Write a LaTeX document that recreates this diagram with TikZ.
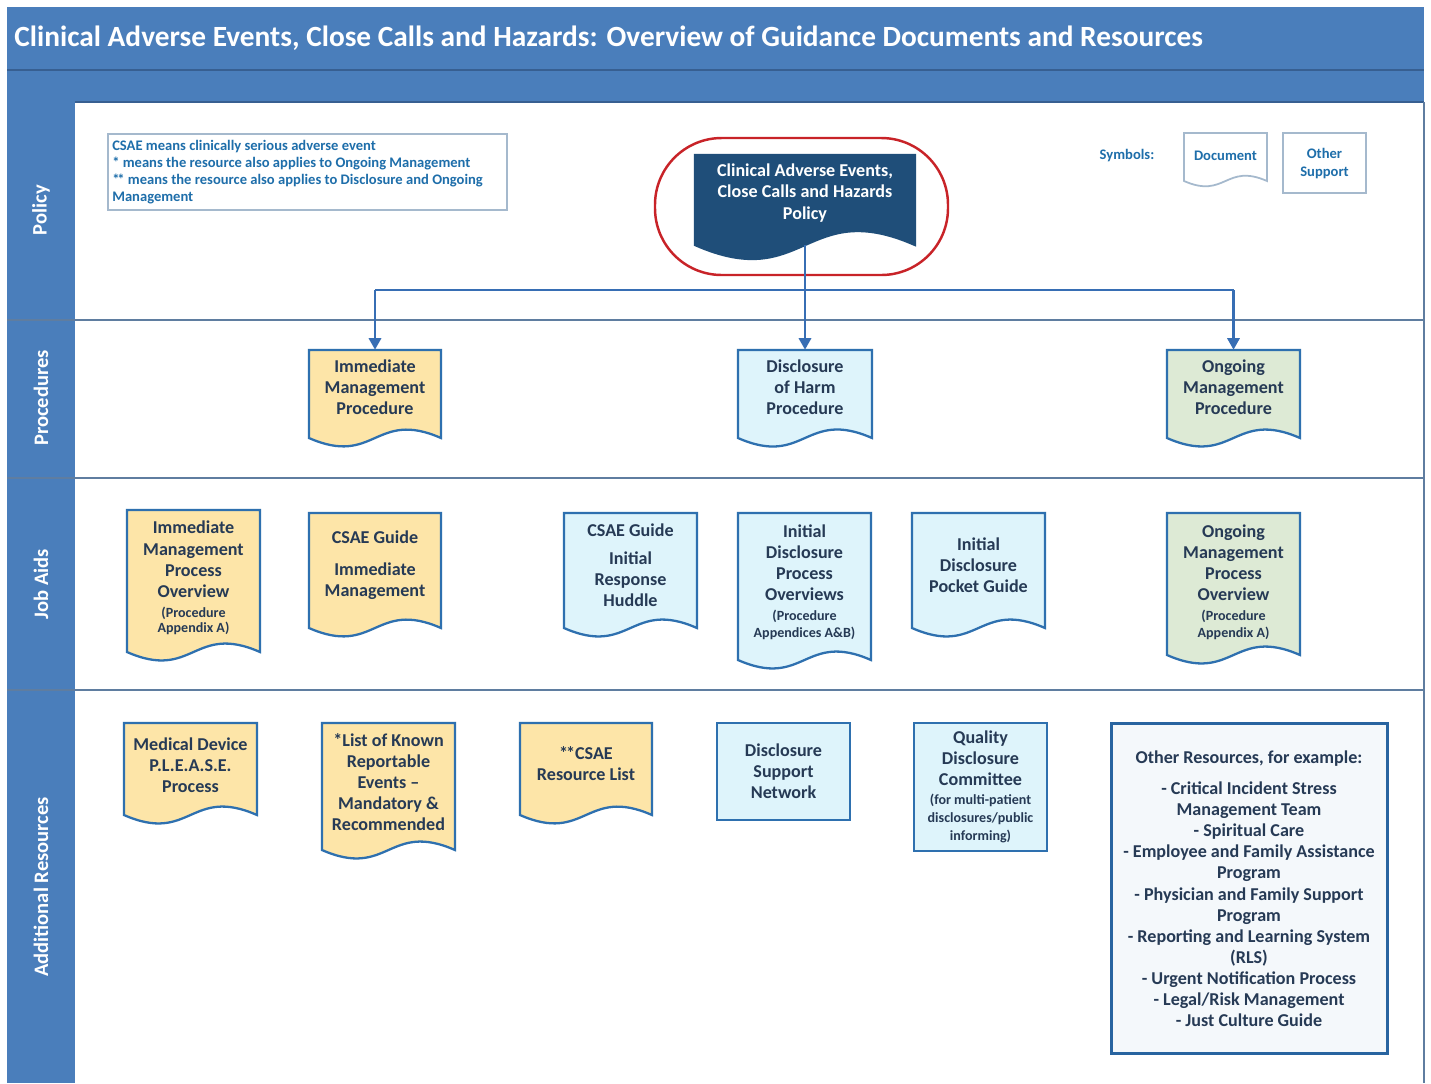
\documentclass[tikz,border=0pt]{standalone}
\usepackage{fontspec}
\setmainfont{Carlito}
\usetikzlibrary{arrows.meta,fit}
\definecolor{band}{RGB}{74,126,187}
\definecolor{bandline}{RGB}{55,95,145}
\definecolor{sepc}{RGB}{95,125,160}
\definecolor{docb}{RGB}{46,112,175}
\definecolor{txtc}{RGB}{38,58,85}
\definecolor{yel}{RGB}{253,229,168}
\definecolor{cya}{RGB}{222,244,251}
\definecolor{grn}{RGB}{221,234,213}
\definecolor{polfill}{RGB}{31,78,121}
\definecolor{ringc}{RGB}{200,35,40}
\definecolor{legc}{RGB}{30,110,170}
\definecolor{legb}{RGB}{165,185,205}
\definecolor{arrc}{RGB}{55,110,180}
\definecolor{othf}{RGB}{244,248,251}
\definecolor{othb}{RGB}{40,100,160}
\newcommand{\smallfnt}{\fontsize{8}{9.4}\selectfont}
\newcommand{\twostar}{*\kern-1.2pt*}
\newcommand{\docbox}[8]{%
  \pgfmathsetmacro{\docW}{#4-#2}%
  \pgfmathsetmacro{\docD}{0.22*\docW}%
  \pgfmathsetmacro{\docM}{(#2+#4)/2}%
  \pgfmathsetlengthmacro{\docTW}{(#4-#2-8)*0.5690551pt}%
  \filldraw[docline,#6] (#2,#3) -- (#4,#3) -- (#4,#5) .. controls (\docM,#5-\docD) and (\docM,#5+\docD) .. (#2,#5) -- cycle;
  \node[fit={(#2,#3) (#4,#5)}, inner sep=0pt] (#1) {};
  \node[doctext, text width=\docTW] (#1-t) at (\docM,#7) {#8};
}
\newcommand{\rbox}[8]{%
  \pgfmathsetmacro{\docM}{(#2+#4)/2}%
  \pgfmathsetlengthmacro{\docTW}{(#4-#2-8)*0.5690551pt}%
  \node[rectbox,#6, fit={(#2,#3) (#4,#5)}] (#1) {};
  \node[doctext, text width=\docTW] (#1-t) at (\docM,#7) {#8};
}
\begin{document}
\begin{tikzpicture}[x=0.02cm,y=-0.02cm,
  every node/.style={font=\bfseries},
  doctext/.style={font=\bfseries\fontsize{10.3}{12}\selectfont, text=txtc, align=flush center, inner sep=0pt},
  docline/.style={draw=docb, line width=1.3pt},
  rectbox/.style={draw=docb, line width=1.3pt, inner sep=0pt},
  lane/.style={rotate=90, text=white, inner sep=0pt, font=\bfseries\fontsize{11.7}{14}\selectfont},
  sepline/.style={draw=sepc, line width=0.8pt},
  conn/.style={draw=arrc, line width=1.2pt},
  arr/.style={conn, -{Triangle[length=6.5pt,width=7pt]}},
]
\path[use as bounding box, fill=white] (0,0) rectangle (1431,1083);
% bands and lanes
\fill[band] (7,7) rectangle (1424,102);
\fill[band] (7,102) rectangle (75,1083);
\draw[bandline, line width=0.6pt] (7,70) -- (1424,70);
\draw[bandline, line width=0.6pt] (75,102) -- (1424,102);
\foreach \yy in {320,478,690} \draw[sepline] (7,\yy) -- (1424,\yy);
\draw[sepline] (1424,102) -- (1424,1083);
\node[anchor=west, text=white, inner sep=0pt, font=\bfseries\fontsize{16.7}{20}\selectfont] (title) at (14,38) {Clinical Adverse Events, Close Calls and Hazards: Overview of Guidance Documents and Resources};
\node[lane] (lPolicy) at (41,210) {Policy};
\node[lane] (lProc) at (41,398) {Procedures};
\node[lane] (lJob) at (41,584) {Job Aids};
\node[lane] (lAdd) at (41,887) {Additional Resources};
% legend
\node[draw=legb, line width=1pt, fill=white, anchor=north west, text width=222pt, minimum height=43.3pt, align=flush left, inner xsep=2.5pt, inner ysep=0pt, text=legc, font=\bfseries\fontsize{8.3}{9.7}\selectfont] (legend) at (107,133) {CSAE means clinically serious adverse event\par{*} means the resource also applies to Ongoing Management\par\twostar{} means the resource also applies to Disclosure and Ongoing\par Management};
% symbols
\node[text=legc, font=\bfseries\fontsize{8.3}{10}\selectfont] (symlbl) at (1127,156) {Symbols:};
\docbox{symdoc}{1184}{133}{1267}{181}{fill=white, draw=legb, line width=1pt}{156}{\color{legc}\fontsize{8.3}{10}\selectfont Document}
\rbox{symother}{1283}{133}{1366}{193}{fill=white, draw=legb, line width=1pt}{163.5}{\color{legc}\fontsize{8.3}{9.7}\selectfont Other\par Support\par}
% policy
\node[draw=ringc, line width=1.4pt, rounded corners=38pt, fit={(655,138) (948,275)}, inner sep=0pt] (ring) {};
\docbox{pol}{695}{155}{915}{245}{fill=polfill, draw=polfill}{193}{\color{white}Clinical Adverse Events,\\Close Calls and Hazards\\Policy}
% procedures
\docbox{imp}{309}{350}{441}{438}{fill=yel}{387}{Immediate\\Management\\Procedure}
\docbox{doh}{738}{350}{872}{438}{fill=cya}{387}{Disclosure\\of Harm\\Procedure}
\docbox{omp}{1167}{350}{1300}{438}{fill=grn}{387}{Ongoing\\Management\\Procedure}
% job aids
\docbox{jaIMP}{127}{510}{260}{652}{fill=yel}{578}{Immediate\\Management\\Process\\Overview\par\vspace{2.5pt}\fontsize{8}{8.8}\selectfont(Procedure\par Appendix A)\par}
\docbox{jaCIM}{309}{513}{441}{628}{fill=yel}{565}{CSAE Guide\\[6pt]Immediate\\Management}
\docbox{jaIRH}{564}{513}{697}{628}{fill=cya}{565}{CSAE Guide\\[4pt]Initial\\Response\\Huddle}
\docbox{jaIDP}{738}{513}{871}{660}{fill=cya}{582}{Initial\\Disclosure\\Process\\Overviews\par\vspace{2pt}\smallfnt(Procedure\par Appendices A\&B)\par}
\docbox{jaPG}{912}{513}{1045}{628}{fill=cya}{565}{Initial\\Disclosure\\Pocket Guide}
\docbox{jaOMP}{1167}{513}{1300}{655}{fill=grn}{582}{Ongoing\\Management\\Process\\Overview\par\vspace{2pt}\smallfnt(Procedure\par Appendix A)\par}
% additional resources
\docbox{arMD}{124}{723}{257}{815}{fill=yel}{765}{Medical Device\\P.L.E.A.S.E.\\Process}
\docbox{arLK}{322}{723}{455}{850}{fill=yel}{782}{*List of Known\\Reportable\\Events –\\Mandatory \&\\Recommended}
\docbox{arRL}{520}{723}{652}{815}{fill=yel}{764}{\twostar CSAE\\Resource List}
\rbox{arDSN}{717}{723}{850}{820}{fill=cya}{771}{Disclosure\\Support\\Network}
\rbox{arQDC}{914}{723}{1047}{851}{fill=cya}{787}{Quality\\Disclosure\\Committee\par\fontsize{8}{10.4}\selectfont(for multi-patient\par disclosures/public\par informing)\par}
\rbox{arOther}{1111}{723}{1387}{1053}{fill=othf, draw=othb, line width=1.7pt}{888.5}{Other Resources, for example:\\[6pt]- Critical Incident Stress\\Management Team\\- Spiritual Care\\- Employee and Family Assistance\\Program\\- Physician and Family Support\\Program\\- Reporting and Learning System\\(RLS)\\- Urgent Notification Process\\- Legal/Risk Management\\- Just Culture Guide}
% connectors
\coordinate (jL) at (375,290);
\coordinate (jR) at (1233.5,290);
\draw[conn] (jL) -- (jR);
\draw[arr] (pol.south) -- (doh.north);
\draw[arr] (jL) -- (imp.north);
\draw[arr] (jR) -- (omp.north);
\end{tikzpicture}
\end{document}
